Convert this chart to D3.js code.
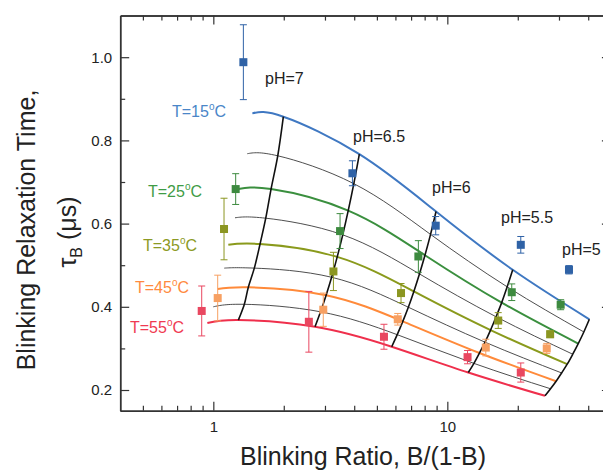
<!DOCTYPE html>
<html>
<head>
<meta charset="utf-8">
<script src="https://cdn.jsdelivr.net/npm/d3@7"></script>
<style>
  body { margin: 0; background: #fff; }
  text { font-family: "Liberation Sans", Arial, sans-serif; }
</style>
</head>
<body>
<script>
const wSvg = 603, hSvg = 474;

// measured points: blinking ratio, tau_B (us), error
const ratio15 = [1.344, 3.93, 8.92, 20.6, 33.1];
const tau15 = [0.988, 0.721, 0.595, 0.549, 0.489];
const err15 = [0.09, 0.03, 0.022, 0.02, 0.01];

const ratio25 = [1.246, 3.48, 7.52, 18.85, 30.5];
const tau25 = [0.683, 0.582, 0.521, 0.435, 0.405];
const err25 = [0.037, 0.042, 0.038, 0.02, 0.012];

const ratio35 = [1.111, 3.26, 6.34, 16.5, 27.5];
const tau35 = [0.587, 0.485, 0.433, 0.367, 0.334];
const err35 = [0.074, 0.046, 0.023, 0.019, 0.008];

const ratio45 = [1.044, 2.95, 6.14, 14.6, 26.6];
const tau45 = [0.421, 0.393, 0.370, 0.302, 0.300];
const err45 = [0.055, 0.04, 0.014, 0.02, 0.012];

const ratio55 = [0.892, 2.56, 5.36, 12.2, 20.6];
const tau55 = [0.390, 0.364, 0.328, 0.279, 0.242];
const err55 = [0.06, 0.073, 0.03, 0.016, 0.023];

// model curves, one point at the start and one on each pH line (7, 6.5, 6, 5.5, 5)
const fitX15 = [1.468, 1.992, 4.207, 8.946, 19.03, 40.45];
const fitY15 = [0.865, 0.857, 0.767, 0.629, 0.489, 0.370];
const fitX20 = [1.397, 1.885, 3.985, 8.478, 18.02, 38.31];
const fitY20 = [0.768, 0.763, 0.696, 0.574, 0.448, 0.3395];
const fitX25 = [1.279, 1.765, 3.771, 8.024, 17.07, 36.26];
const fitY25 = [0.683, 0.683, 0.631, 0.524, 0.410, 0.3115];
const fitX30 = [1.238, 1.675, 3.573, 7.600, 16.16, 34.35];
const fitY30 = [0.614, 0.613, 0.573, 0.479, 0.376, 0.286];
const fitX35 = [1.159, 1.584, 3.384, 7.193, 15.30, 32.53];
const fitY35 = [0.549, 0.551, 0.520, 0.437, 0.344, 0.262];
const fitX40 = [1.114, 1.497, 3.203, 6.813, 14.49, 30.79];
const fitY40 = [0.493, 0.493, 0.471, 0.399, 0.315, 0.241];
const fitX45 = [1.044, 1.411, 3.034, 6.453, 13.72, 29.17];
const fitY45 = [0.443, 0.447, 0.428, 0.365, 0.289, 0.221];
const fitX50 = [1.000, 1.357, 2.872, 6.107, 12.99, 27.61];
const fitY50 = [0.400, 0.406, 0.388, 0.333, 0.264, 0.203];
const fitX55 = [0.943, 1.279, 2.720, 5.786, 12.29, 26.15];
const fitY55 = [0.361, 0.368, 0.352, 0.304, 0.242, 0.186];

const phLabels = ["pH=7", "pH=6.5", "pH=6", "pH=5.5", "pH=5"];
const tempLabels = ["15", "25", "35", "45", "55"];
const xTicks = [1, 10];
const xMinor = [0.5, 0.6, 0.7, 0.8, 0.9, 2, 3, 4, 5, 6, 7, 8, 9, 20, 30, 40];
const yTicks = [0.2, 0.4, 0.6, 0.8, 1.0];
const yMinor = [0.3, 0.5, 0.7, 0.9];

const lineColors = ["#3f78c2", "#3a8f3e", "#8a9a1c", "#ff8a3a", "#ef2f4c"];
const markColors = ["#2f62a6", "#3d8a3f", "#8b9621", "#f7a062", "#e94760"];
const labelColors = ["#4a86c8", "#3f9c46", "#8c9a24", "#ff8a40", "#f03a52"];

const series = [
    {x: ratio15, y: tau15, e: err15},
    {x: ratio25, y: tau25, e: err25},
    {x: ratio35, y: tau35, e: err35},
    {x: ratio45, y: tau45, e: err45},
    {x: ratio55, y: tau55, e: err55}
];
const fits = [
    {x: fitX15, y: fitY15, c: 0}, {x: fitX20, y: fitY20, c: -1},
    {x: fitX25, y: fitY25, c: 1}, {x: fitX30, y: fitY30, c: -1},
    {x: fitX35, y: fitY35, c: 2}, {x: fitX40, y: fitY40, c: -1},
    {x: fitX45, y: fitY45, c: 3}, {x: fitX50, y: fitY50, c: -1},
    {x: fitX55, y: fitY55, c: 4}
];

const svg = d3.select("body").append("svg")
    .attr("width", wSvg)
    .attr("height", hSvg);

let x = d3.scaleLog().domain([0.4, 50]).range([120.2, 610.9]);
let y = d3.scaleLinear().domain([0.15, 1.1]).range([410.8, 15.6]);

let line = d3.line()
    .x(d => x(d[0]))
    .y(d => y(d[1]))
    .curve(d3.curveNatural);

// thin black model curves first, coloured ones on top
let order = fits.filter(f => f.c < 0).concat(fits.filter(f => f.c >= 0));
svg.selectAll("path.fit")
    .data(order)
    .enter()
    .append("path")
    .attr("class", "fit")
    .attr("d", f => line(f.x.map((v, i) => [v, f.y[i]])))
    .attr("fill", "none")
    .attr("stroke", f => f.c < 0 ? "#3a3a3a" : lineColors[f.c])
    .attr("stroke-width", f => f.c < 0 ? 0.9 : 2);

// pH iso-lines through the k-th point of every curve
let phLine = d3.line()
    .x(d => x(d[0]))
    .y(d => y(d[1]))
    .curve(d3.curveCatmullRom);
for (let k = 1; k <= 5; k++) {
    svg.append("path")
        .attr("d", phLine(fits.map(f => [f.x[k], f.y[k]])))
        .attr("fill", "none")
        .attr("stroke", "#111")
        .attr("stroke-width", 1.6);
}

// error bars and squares
series.forEach((s, si) => {
    let g = svg.append("g");
    let pts = s.x.map((v, i) => ({x: v, y: s.y[i], e: s.e[i]}));
    g.selectAll("line.eb")
        .data(pts).enter().append("line")
        .attr("x1", d => x(d.x)).attr("x2", d => x(d.x))
        .attr("y1", d => y(d.y + d.e)).attr("y2", d => y(d.y - d.e))
        .attr("stroke", markColors[si]).attr("stroke-width", 1);
    [1, -1].forEach(sign => {
        g.selectAll("line.cap" + sign)
            .data(pts).enter().append("line")
            .attr("x1", d => x(d.x) - 3.5).attr("x2", d => x(d.x) + 3.5)
            .attr("y1", d => y(d.y + sign * d.e)).attr("y2", d => y(d.y + sign * d.e))
            .attr("stroke", markColors[si]).attr("stroke-width", 1);
    });
    g.selectAll("rect")
        .data(pts).enter().append("rect")
        .attr("x", d => x(d.x) - 4).attr("y", d => y(d.y) - 4)
        .attr("width", 8).attr("height", 8)
        .attr("fill", markColors[si]);
});

// axes, ticks pointing inward
function styleAxis(g) {
    g.selectAll("path").attr("stroke", "#333").attr("stroke-width", 1.5);
    g.selectAll("line").attr("stroke", "#333").attr("stroke-width", 1.2);
    g.selectAll("text").attr("fill", "#222").style("font-size", "15px")
        .style("font-family", "'Liberation Sans', Arial, sans-serif");
}
svg.append("g").attr("transform", "translate(0,410.8)")
    .call(d3.axisBottom(x).tickValues(xMinor).tickSize(-5).tickSizeOuter(0).tickFormat(""))
    .call(styleAxis);
svg.append("g").attr("transform", "translate(0,410.8)")
    .call(d3.axisBottom(x).tickValues(xTicks).tickSize(-9).tickSizeOuter(0).tickPadding(11).tickFormat(d3.format("d")))
    .call(styleAxis);
svg.append("g").attr("transform", "translate(0,15.6)")
    .call(d3.axisTop(x).tickValues(xMinor).tickSize(-5).tickSizeOuter(0).tickFormat(""))
    .call(styleAxis);
svg.append("g").attr("transform", "translate(0,15.6)")
    .call(d3.axisTop(x).tickValues(xTicks).tickSize(-9).tickSizeOuter(0).tickFormat(""))
    .call(styleAxis);
svg.append("g").attr("transform", "translate(120.2,0)")
    .call(d3.axisLeft(y).tickValues(yMinor).tickSize(-5).tickSizeOuter(0).tickFormat(""))
    .call(styleAxis);
svg.append("g").attr("transform", "translate(120.2,0)")
    .call(d3.axisLeft(y).tickValues(yTicks).tickSize(-9).tickSizeOuter(0).tickPadding(8).tickFormat(d3.format(".1f")))
    .call(styleAxis);
svg.append("g").attr("transform", "translate(610.9,0)")
    .call(d3.axisRight(y).tickValues(yMinor).tickSize(-5).tickSizeOuter(0).tickFormat(""))
    .call(styleAxis);
svg.append("g").attr("transform", "translate(610.9,0)")
    .call(d3.axisRight(y).tickValues(yTicks).tickSize(-9).tickSizeOuter(0).tickFormat(""))
    .call(styleAxis);

// pH labels
const phPos = [[265, 84], [353, 142], [432, 193], [501, 223], [562, 255]];
phLabels.forEach((t, i) => {
    svg.append("text")
        .attr("x", phPos[i][0]).attr("y", phPos[i][1])
        .attr("fill", "#222").style("font-size", "16px")
        .text(t);
});

// temperature labels
const tPos = [[172, 117], [148, 197], [143, 251], [135, 293], [130, 333]];
tempLabels.forEach((t, i) => {
    let tx = svg.append("text")
        .attr("x", tPos[i][0]).attr("y", tPos[i][1])
        .attr("fill", labelColors[i]).style("font-size", "16px");
    tx.append("tspan").text("T=" + t);
    tx.append("tspan").attr("dy", -7).style("font-size", "10px").text("o");
    tx.append("tspan").attr("dy", 7).text("C");
});

// axis titles
svg.append("text")
    .attr("x", 363).attr("y", 465)
    .attr("text-anchor", "middle")
    .attr("fill", "#222").style("font-size", "25px")
    .text("Blinking Ratio, B/(1-B)");

svg.append("text")
    .attr("transform", "translate(35,230) rotate(-90)")
    .attr("text-anchor", "middle")
    .attr("fill", "#222").style("font-size", "25px")
    .text("Blinking Relaxation Time,");

let yt2 = svg.append("text")
    .attr("transform", "translate(76,232) rotate(-90)")
    .attr("text-anchor", "middle")
    .attr("fill", "#222").style("font-size", "25px");
yt2.append("tspan").text("\u03C4");
yt2.append("tspan").attr("dy", 6).style("font-size", "16px").text("B");
yt2.append("tspan").attr("dy", -6).text(" (\u03BCs)");
</script>
</body>
</html>
